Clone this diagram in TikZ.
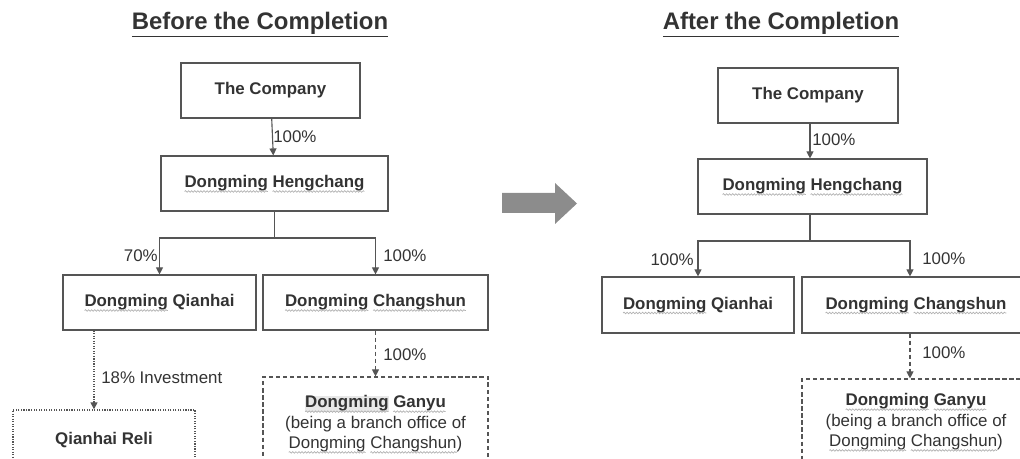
\documentclass[tikz,border=0pt]{standalone}
\usepackage{fontspec}
\setmainfont{Liberation Sans}
\usepackage{xcolor}
\usetikzlibrary{positioning, arrows.meta, decorations.pathmorphing}

\definecolor{texto}{HTML}{333333}
\definecolor{linea}{HTML}{555555}
\definecolor{flecha}{HTML}{8C8C8C}

% subrayado ondulado gris
\newlength\ondulen
\newcommand\ondu[1]{\setbox0=\hbox{#1}\setlength\ondulen{\wd0}\box0%
  \tikz[overlay, baseline=0pt]\draw[gray!60, line width=0.5pt, solid, decorate,
    decoration={snake, amplitude=0.55pt, segment length=2.2pt}] (-\ondulen,-2.6pt) -- (0pt,-2.6pt);}

\tikzset{
  caja/.style={draw=linea, line width=0.8pt, inner sep=0pt, minimum height=1.375cm,
    text=texto, font=\fontsize{12}{14.5}\selectfont\bfseries, align=center},
  pct/.style={inner sep=0pt, text=texto, font=\fontsize{12}{14}\selectfont},
  titulo/.style={inner sep=0pt, text=texto, font=\fontsize{17}{20}\selectfont\bfseries},
  flec/.style={draw=linea, line width=0.8pt, -{Triangle[width=5pt,length=5pt]}},
  punt/.style={flec, densely dotted, line width=1pt},
  disc/.style={flec, dash pattern=on 3pt off 2pt},
}

\begin{document}
\begin{tikzpicture}[x=0.025cm, y=-0.025cm]
        \useasboundingbox (0,0) rectangle (1020,459);
        \clip (0,0) rectangle (1020,459);

        % Antes
        \node[titulo] (t1) at (260,25) {\underline{Before the Completion}};
        \node[caja, minimum width=4.475cm] (co1) at (270.5,90.5) {The Company};
        \node[caja, minimum width=5.675cm] (hc1) at (274.5,183.5) {\ondu{Dongming} \ondu{Hengchang}};
        \node[caja, minimum width=4.825cm] (qh1) at (159.5,302.5) {\ondu{Dongming} Qianhai};
        \node[caja, minimum width=5.625cm] (cs1) at (375.5,302.5) {\ondu{Dongming} \ondu{Changshun}};
        \node[caja, densely dotted, line width=1pt, minimum width=4.55cm, minimum height=1.5cm] (rl1) at (104,440) {Qianhai Reli};
        \node[caja, dash pattern=on 3pt off 2pt, minimum width=5.625cm, minimum height=2.35cm] (gy1) at (375.5,424)
          {\ondu{\setlength\fboxsep{0pt}\colorbox{gray!18}{Dongming}} \ondu{Ganyu}\\\mdseries(being a branch office of\\\mdseries\ondu{Dongming} \ondu{Changshun})};

        \coordinate (j1) at (274.5,238);
        \draw[flec] (co1) -- (hc1);
        \draw[draw=linea, line width=0.8pt] (hc1.south) -- (j1);
        \draw[flec] (j1) -| (qh1.north);
        \draw[flec] (j1) -| (cs1.north);
        \draw[punt] ([xshift=-0.25cm]rl1.north |- qh1.south) -- ([xshift=-0.25cm]rl1.north);
        \draw[disc] (cs1) -- (gy1);

        \node[pct, anchor=west] (p1) at (273,137) {100\%};
        \node[pct, anchor=east] (p2) at (158,256) {70\%};
        \node[pct, anchor=west] (p3) at (383,256) {100\%};
        \node[pct, anchor=west] (p4) at (101,378) {18\% Investment};
        \node[pct, anchor=west] (p5) at (383,355) {100\%};

        % Flecha central
        \fill[flecha] (502,193) -- (555,193) -- (555,183) -- (577,203.5) -- (555,224) -- (555,213) -- (502,213) -- cycle;

        % Despues
        \node[titulo] (t2) at (781,25) {\underline{After the Completion}};
        \node[caja, minimum width=4.5cm] (co2) at (808,95.5) {The Company};
        \node[caja, minimum width=5.725cm] (hc2) at (812.5,186.5) {\ondu{Dongming} \ondu{Hengchang}};
        \node[caja, minimum width=4.8cm, minimum height=1.4cm] (qh2) at (698,305) {\ondu{Dongming} Qianhai};
        \node[caja, minimum width=5.7cm, minimum height=1.4cm] (cs2) at (916,305) {\ondu{Dongming} \ondu{Changshun}};
        \node[caja, dash pattern=on 3pt off 2pt, minimum width=5.7cm, minimum height=2.15cm] (gy2) at (916,422)
          {\ondu{Dongming} \ondu{Ganyu}\\\mdseries(being a branch office of\\\mdseries\ondu{Dongming} \ondu{Changshun})};

        \coordinate (j2) at (810,241);
        \draw[flec] (co2.south -| j2) -- (hc2.north -| j2);
        \draw[draw=linea, line width=0.8pt] (hc2.south -| j2) -- (j2);
        \draw[flec] (j2) -| (qh2.north);
        \draw[flec] (j2) -| ([xshift=-0.15cm]cs2.north);
        \draw[disc] ([xshift=-0.15cm]cs2.south) -- ([xshift=-0.15cm]gy2.north);

        \node[pct, anchor=west] (q1) at (812,140) {100\%};
        \node[pct, anchor=east] (q2) at (694,260) {100\%};
        \node[pct, anchor=west] (q3) at (922,259) {100\%};
        \node[pct, anchor=west] (q4) at (922,353) {100\%};
    \end{tikzpicture}
\end{document}
